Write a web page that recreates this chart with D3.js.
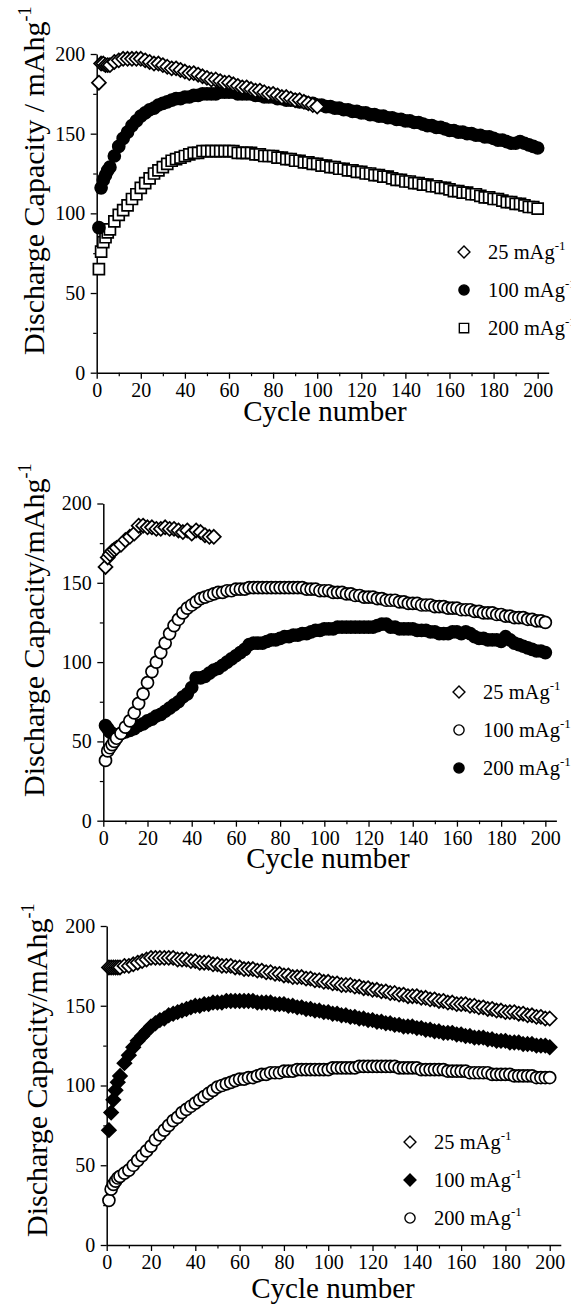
<!DOCTYPE html>
<html>
<head>
<meta charset="utf-8">
<script src="https://cdn.jsdelivr.net/npm/d3@7"></script>
<style>
  body { margin: 0; background: #fff; }
  svg text { font-family: "Liberation Serif", "Times New Roman", "DejaVu Serif", serif; fill: #000; }
</style>
</head>
<body>
<div id="chart"></div>
<script>
(function () {

    // cycle numbers shared by every series (first six cycles, then every second one)
    var cycles = [1,2,3,4,5,6,8,10,
        12,14,16,18,20,22,24,26,28,30,32,34,36,38,40,42,44,46,48,50,
        52,54,56,58,60,62,64,66,68,70,72,74,76,78,80,82,84,86,88,90,
        92,94,96,98,100,102,104,106,108,110,112,114,116,118,120,122,124,126,128,130,
        132,134,136,138,140,142,144,146,148,150,152,154,156,158,160,162,164,166,168,170,
        172,174,176,178,180,182,184,186,188,190,192,194,196,198,200]

    var xTicks = [0,20,40,60,80,100,120,140,160,180,200]
    var xMinor = [10,30,50,70,90,110,130,150,170,190]
    var yTicks = [0,50,100,150,200]
    var yMinor = [25,75,125,175]
    var rates = ['25 mAg', '100 mAg', '200 mAg']

    // panel 1
    var p1_25 = [182,194,194,193,193,193, 195,196,
        197,197,197,197,197, 196,195,194,194,193, 192,191,191,190,189, 188,188,187,186,185,
        184,184,183,182,182, 181,180,179,179,178, 177,177,176,175,175, 174,173,173,172,171,
        171,170,169,168,167]
    var p1_100 = [91,116,121,124,127,129, 136,142,
        147,151,155,158,161, 163,165,166,168,169, 170,171,172,172,173, 173,174,174,175,175,
        175,175,176,176,176, 176,175,175,175,175, 174,174,173,173,173, 172,172,171,171,171,
        170,170,169,169,168, 168,167,167,166,166, 165,165,164,164,163, 163,162,162,161,161,
        160,160,159,159,158, 158,157,157,156,155, 155,154,154,153,152, 152,151,151,150,150,
        149,149,148,148,147, 146,146,145,144,144, 145,144,143,142,141]
    var p1_200 = [65,76,82,85,88,90, 95,99,
        102,105,109,112,116, 119,122,125,127,129, 131,133,134,135,136, 137,138,138,139,139,
        139,139,139,139,139, 139,138,138,138,138, 137,137,136,136,136, 135,135,134,134,133,
        133,132,132,131,131, 130,130,129,129,128, 128,127,127,126,126, 125,125,124,124,123,
        123,122,121,121,120, 120,119,119,118,118, 117,117,116,116,115, 114,114,113,113,112,
        112,111,110,110,109, 109,108,107,107,106, 106,105,104,104,103]

    // panel 2
    var p2_25 = [160,166,168,170,171,172, 174,177,
        179,181,186,186,185, 185,184,184,185,184, 184,183,182,183,181, 183,182,180,179,179]
    var p2_100 = [38,44,46,48,50,52, 55,59,
        63,68,74,80,87, 94,100,106,112,118, 123,127,131,134,136, 138,140,141,142,143,
        144,144,145,145,146, 146,146,147,147,147, 147,147,147,147,147, 147,147,147,147,147,
        146,146,146,145,145, 145,144,144,144,143, 143,142,142,141,141, 141,140,140,139,139,
        139,138,138,137,137, 137,136,136,136,135, 135,135,134,134,134, 133,133,133,132,132,
        131,131,131,130,130, 129,129,128,128,128, 127,127,126,126,125]
    var p2_200 = [60,58,56,55,54,54, 55,56,
        57,58,60,61,63, 64,66,67,69,71, 73,75,78,80,84, 90,90,91,93,95,
        96,98,100,102,104, 106,108,111,112,112, 112,113,114,114,115, 116,116,117,117,118,
        118,119,120,120,121, 121,121,122,122,122, 122,122,122,122,122, 122,123,124,124,122,
        122,121,121,121,121, 120,120,120,119,119, 118,118,118,119,119, 118,119,118,116,115,
        115,114,114,114,113, 116,114,112,111,110, 109,108,107,107,106]

    // panel 3
    var p3_25 = [174,174,174,174,174,174, 175,175,
        176,177,178,179,180, 180,180,180,180,180, 179,179,179,178,178, 177,177,177,176,176,
        175,175,175,174,174, 173,173,173,172,172, 171,171,170,170,169, 169,168,168,168,167,
        167,166,166,165,165, 164,164,163,163,163, 162,162,161,161,160, 160,159,159,158,158,
        157,157,156,156,156, 155,155,154,154,153, 153,152,152,151,151, 151,150,150,149,149,
        148,148,147,147,146, 146,146,145,145,144, 144,143,143,142,142]
    var p3_100 = [72,83,91,97,102,106, 114,119,
        124,128,131,134,137, 139,141,142,144,145, 146,147,148,149,150, 150,151,151,152,152,
        152,153,153,153,153, 153,153,153,152,152, 152,152,151,151,151, 150,150,149,149,148,
        148,147,147,146,146, 145,145,144,144,143, 143,142,142,141,141, 140,140,139,139,138,
        138,137,137,137,136, 136,135,135,134,134, 133,133,133,132,132, 131,131,130,130,130,
        129,129,128,128,128, 127,127,127,126,126, 126,125,125,125,124]
    var p3_200 = [28,35,38,40,42,43, 45,47,
        50,53,56,59,62, 66,69,72,75,78, 80,83,85,87,89, 91,93,95,97,99,
        100,101,102,103,104, 104,105,105,106,107, 107,108,108,108,109, 109,109,110,110,110,
        110,110,110,110,110, 111,111,111,111,111, 111,112,112,112,112, 112,112,112,112,112,
        111,111,111,111,111, 110,110,110,110,110, 110,109,109,109,109, 109,108,108,108,108,
        108,107,107,107,107, 107,106,106,106,106, 106,105,105,105,105]

    var width = 571, height = 1305
    var serif = '"Liberation Serif", "Times New Roman", "DejaVu Serif", serif'

    var svg = d3.select('#chart')
        .append('svg')
        .attr('width', width)
        .attr('height', height)
        .attr('font-family', serif)

    var panels = [
        {
            xr: [96.7, 548.7], yr: [372.7, 54],
            yLabel: 'Discharge Capacity / mAhg', yLabelPos: [44, 355], xLabelPos: [325, 421],
            legend: [464, 252],
            // drawn bottom to top; legend keeps rate order
            series: [
                {values: p1_200, shape: 'square', filled: false, rate: 2},
                {values: p1_100, shape: 'circle', filled: true, rate: 1},
                {values: p1_25, shape: 'diamond', filled: false, rate: 0}
            ]
        },
        {
            xr: [103.3, 556.4], yr: [820.7, 503.5],
            yLabel: 'Discharge Capacity/mAhg', yLabelPos: [44, 797], xLabelPos: [328, 868],
            legend: [459, 692],
            series: [
                {values: p2_200, shape: 'circle', filled: true, rate: 2},
                {values: p2_100, shape: 'circle', filled: false, rate: 1},
                {values: p2_25, shape: 'diamond', filled: false, rate: 0}
            ]
        },
        {
            xr: [106.7, 560.8], yr: [1245, 926],
            yLabel: 'Discharge Capacity/mAhg', yLabelPos: [47, 1237], xLabelPos: [333, 1298],
            legend: [410, 1142],
            series: [
                {values: p3_200, shape: 'circle', filled: false, rate: 2},
                {values: p3_100, shape: 'diamond', filled: true, rate: 1},
                {values: p3_25, shape: 'diamond', filled: false, rate: 0}
            ]
        }
    ]

    function shapePath(shape, k) {
        k = k || 1
        if (shape === 'diamond') return d3.line()([[0, -7 * k], [7 * k, 0], [0, 7 * k], [-7 * k, 0]]) + 'Z'
        if (shape === 'square') return d3.line()([[-5.5 * k, -5.5 * k], [5.5 * k, -5.5 * k], [5.5 * k, 5.5 * k], [-5.5 * k, 5.5 * k]]) + 'Z'
        return d3.symbol(d3.symbolCircle, Math.PI * 6 * 6 * k * k)()
    }

    function styleAxis(g, size) {
        g.attr('font-family', serif)
        g.select('.domain').attr('stroke-width', 1.5)
        g.selectAll('.tick line').attr('stroke-width', 1.3)
        g.selectAll('.tick text')
            .attr('font-size', size)
            .attr('fill', '#000')
    }

    panels.forEach(function (p) {
        var x = d3.scaleLinear().domain([0, 205]).range(p.xr)
        var y = d3.scaleLinear().domain([0, 200]).range(p.yr)
        var g = svg.append('g')

        var xAxis = g.append('g')
            .attr('transform', 'translate(0,' + p.yr[0] + ')')
            .call(d3.axisBottom(x).tickValues(xTicks).tickSize(6).tickSizeOuter(0).tickPadding(4))
        styleAxis(xAxis, 20)
        g.append('g')
            .attr('transform', 'translate(0,' + p.yr[0] + ')')
            .call(d3.axisBottom(x).tickValues(xMinor).tickSize(3.5).tickFormat(''))
            .call(function (s) { s.select('.domain').remove(); s.selectAll('line').attr('stroke-width', 1.2) })

        var yAxis = g.append('g')
            .attr('transform', 'translate(' + p.xr[0] + ',0)')
            .call(d3.axisLeft(y).tickValues(yTicks).tickSize(6).tickSizeOuter(0).tickPadding(5.5))
        styleAxis(yAxis, 20)
        g.append('g')
            .attr('transform', 'translate(' + p.xr[0] + ',0)')
            .call(d3.axisLeft(y).tickValues(yMinor).tickSize(3.5).tickFormat(''))
            .call(function (s) { s.select('.domain').remove(); s.selectAll('line').attr('stroke-width', 1.2) })

        p.series.forEach(function (s) {
            g.append('g').selectAll('path')
                .data(s.values)
                .enter().append('path')
                .attr('d', shapePath(s.shape))
                .attr('transform', function (v, i) {
                    return 'translate(' + x(cycles[i]) + ',' + y(v) + ')'
                })
                .attr('fill', s.filled ? '#000' : '#fff')
                .attr('stroke', '#000')
                .attr('stroke-width', 1.7)
        })

        // legend
        var leg = g.append('g').attr('transform', 'translate(' + p.legend[0] + ',' + p.legend[1] + ')')
        var ordered = p.series.slice().sort(function (a, b) { return a.rate - b.rate })
        ordered.forEach(function (s, i) {
            var row = leg.append('g').attr('transform', 'translate(0,' + (i * 38) + ')')
            row.append('path')
                .attr('d', shapePath(s.shape, 0.85))
                .attr('fill', s.filled ? '#000' : '#fff')
                .attr('stroke', '#000')
                .attr('stroke-width', 1.4)
            var t = row.append('text')
                .attr('x', 24)
                .attr('y', 7)
                .attr('font-size', 20.5)
                .text(rates[s.rate])
            t.append('tspan')
                .attr('font-size', 13)
                .attr('dy', -9)
                .text('-1')
        })

        // axis titles
        var yl = g.append('text')
            .attr('transform', 'translate(' + p.yLabelPos[0] + ',' + p.yLabelPos[1] + ') rotate(-90)')
            .attr('font-size', 30)
            .text(p.yLabel)
        yl.append('tspan')
            .attr('font-size', 18)
            .attr('dy', -13)
            .text('-1')

        g.append('text')
            .attr('x', p.xLabelPos[0])
            .attr('y', p.xLabelPos[1])
            .attr('text-anchor', 'middle')
            .attr('font-size', 29)
            .text('Cycle number')
    })

})()
</script>
</body>
</html>
